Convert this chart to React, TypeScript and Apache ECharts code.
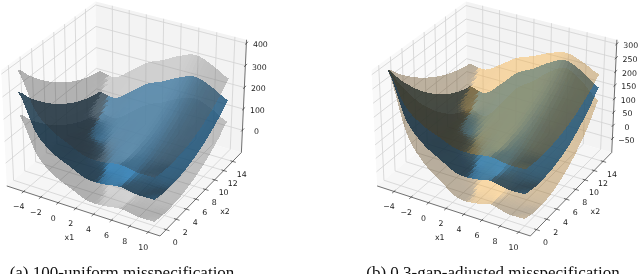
import React, { useEffect, useRef } from "react";
import * as echarts from "echarts";

const x1Grid = [-5, -3.125, -1.25, 0.625, 2.5, 4.375, 6.25, 8.125, 10];
const x2Grid = [0, 1.875, 3.75, 5.625, 7.5, 9.375, 11.25, 13.125, 15];
const x1Ticks = [-4, -2, 0, 2, 4, 6, 8, 10];
const x2Ticks = [0, 2, 4, 6, 8, 10, 12, 14];
const zTicksA = [0, 100, 200, 300, 400];
const zTicksB = [-50, 0, 50, 100, 150, 200, 250, 300];

const meanZ = [
  [308, 247, 193, 146, 107, 74, 48, 29, 18],
  [150, 108, 72, 44, 23, 9, 1, 1, 8],
  [80, 53, 33, 20, 14, 14, 22, 37, 59],
  [43, 28, 20, 18, 24, 37, 56, 83, 117],
  [10, 3, 3, 10, 24, 45, 73, 108, 150],
  [9, 7, 12, 24, 43, 69, 102, 142, 189],
  [21, 20, 27, 40, 61, 89, 123, 164, 213],
  [10, 8, 12, 24, 42, 68, 101, 140, 187],
  [11, 3, 3, 9, 22, 42, 70, 104, 146],
];
const upperA = [
  [408, 347, 293, 246, 207, 174, 148, 129, 118],
  [250, 208, 172, 144, 123, 109, 101, 101, 108],
  [180, 153, 133, 120, 114, 114, 122, 137, 159],
  [143, 128, 120, 118, 124, 137, 156, 183, 217],
  [110, 103, 103, 110, 124, 145, 173, 208, 250],
  [109, 107, 112, 124, 143, 169, 202, 242, 289],
  [121, 120, 127, 140, 161, 189, 223, 264, 313],
  [110, 108, 112, 124, 142, 168, 201, 240, 287],
  [111, 103, 103, 109, 122, 142, 170, 204, 246],
];
const lowerA = [
  [208, 147, 93, 46, 7, -26, -52, -71, -82],
  [50, 8, -28, -56, -77, -91, -99, -99, -92],
  [-20, -47, -67, -80, -86, -86, -78, -63, -41],
  [-57, -72, -80, -82, -76, -63, -44, -17, 17],
  [-90, -97, -97, -90, -76, -55, -27, 8, 50],
  [-91, -93, -88, -76, -57, -31, 2, 42, 89],
  [-79, -80, -73, -60, -39, -11, 23, 64, 113],
  [-90, -92, -88, -76, -58, -32, 1, 40, 87],
  [-89, -97, -97, -91, -78, -58, -30, 4, 46],
];
const upperB = [
  [308, 265, 227, 194, 167, 144, 126, 113, 105],
  [197, 168, 143, 123, 108, 98, 93, 93, 98],
  [148, 129, 115, 106, 102, 102, 108, 118, 134],
  [122, 112, 106, 105, 109, 118, 131, 150, 174],
  [99, 94, 94, 99, 109, 124, 143, 168, 197],
  [98, 97, 100, 109, 122, 140, 163, 191, 224],
  [107, 106, 111, 120, 135, 154, 178, 207, 241],
  [99, 98, 100, 109, 121, 140, 163, 190, 223],
  [100, 94, 94, 98, 107, 121, 141, 165, 194],
];
const lowerB = [
  [308, 229, 159, 98, 47, 4, -30, -54, -69],
  [103, 48, 2, -35, -62, -80, -91, -91, -82],
  [12, -23, -49, -66, -74, -74, -63, -44, -15],
  [-36, -56, -66, -69, -61, -44, -19, 16, 60],
  [-79, -88, -88, -79, -61, -34, 3, 48, 103],
  [-80, -83, -76, -61, -36, -2, 41, 93, 154],
  [-65, -66, -57, -40, -13, 24, 68, 121, 185],
  [-79, -82, -76, -61, -37, -4, 39, 90, 151],
  [-78, -88, -88, -80, -63, -37, -1, 43, 98],
];

const captionA = "(a) 100-uniform misspecification";
const captionB = "(b) 0.3-gap-adjusted misspecification";

const X1_RANGE = [-6, 11.27];
const X2_RANGE = [-1.2, 16];
const BOX = [1.19, 1.19, 0.893];
const U = [0.866, 0.5, 0];
const V = [-0.25, 0.433, 0.866];
const W = [0.433, -0.75, 0.5];
const DIST = 10;
const SCALE = 1475;
const LIGHT = [-0.667, -0.667, 0.333];
const SUB = 5;
const NORMAL_SPAN = 3;
const TICK_FONT = '7.8px "DejaVu Sans"';

type P = { x: number; y: number; d: number };

function makeProjector(cx: number, cy: number, zr: number[]) {
  return (a: number, b: number, c: number): P => {
    const p = [
      ((a - X1_RANGE[0]) / (X1_RANGE[1] - X1_RANGE[0]) - 0.5) * BOX[0],
      ((b - X2_RANGE[0]) / (X2_RANGE[1] - X2_RANGE[0]) - 0.5) * BOX[1],
      ((c - zr[0]) / (zr[1] - zr[0]) - 0.5) * BOX[2],
    ];
    const dot = (q: number[]) => p[0] * q[0] + p[1] * q[1] + p[2] * q[2];
    const d = DIST - dot(W);
    return { x: cx + (SCALE * dot(U)) / d, y: cy - (SCALE * dot(V)) / d, d };
  };
}

function cr(p0: number, p1: number, p2: number, p3: number, t: number) {
  return 0.5 * (2 * p1 + (p2 - p0) * t + (2 * p0 - 5 * p1 + 4 * p2 - p3) * t * t + (3 * p1 - p0 - 3 * p2 + p3) * t * t * t);
}

function refine(rows: number[][]) {
  const n = rows.length;
  const m = rows[0].length;
  const at = (i: number, j: number) => rows[Math.max(0, Math.min(n - 1, i))][Math.max(0, Math.min(m - 1, j))];
  const out: number[][] = [];
  for (let I = 0; I <= (n - 1) * SUB; I++) {
    const i = Math.min(n - 2, Math.floor(I / SUB));
    const ti = I / SUB - i;
    const row: number[] = [];
    for (let J = 0; J <= (m - 1) * SUB; J++) {
      const j = Math.min(m - 2, Math.floor(J / SUB));
      const tj = J / SUB - j;
      const col = [-1, 0, 1, 2].map((k) => cr(at(i + k, j - 1), at(i + k, j), at(i + k, j + 1), at(i + k, j + 2), tj));
      row.push(cr(col[0], col[1], col[2], col[3], ti));
    }
    out.push(row);
  }
  return out;
}

function surfaceSeries(rows: number[][], proj: ReturnType<typeof makeProjector>, rgb: number[], alpha: number) {
  const z = refine(rows);
  const n = z.length - 1;
  const dx = (x1Grid[x1Grid.length - 1] - x1Grid[0]) / n;
  const dy = (x2Grid[x2Grid.length - 1] - x2Grid[0]) / n;
  const cells: { pts: number[][]; fill: string; d: number }[] = [];
  for (let i = 0; i < n; i++) {
    for (let j = 0; j < n; j++) {
      const a = x1Grid[0] + i * dx;
      const b = x2Grid[0] + j * dy;
      const q = [proj(a, b, z[i][j]), proj(a + dx, b, z[i + 1][j]), proj(a + dx, b + dy, z[i + 1][j + 1]), proj(a, b + dy, z[i][j + 1])];
      const i0 = Math.max(0, i - NORMAL_SPAN);
      const i1 = Math.min(n, i + 1 + NORMAL_SPAN);
      const j0 = Math.max(0, j - NORMAL_SPAN);
      const j1 = Math.min(n, j + 1 + NORMAL_SPAN);
      const zx = (z[i1][j] + z[i1][j + 1] - z[i0][j] - z[i0][j + 1]) / 2 / ((i1 - i0) * dx);
      const zy = (z[i][j1] + z[i + 1][j1] - z[i][j0] - z[i + 1][j0]) / 2 / ((j1 - j0) * dy);
      const len = Math.sqrt(zx * zx + zy * zy + 1);
      const shade = (-zx * LIGHT[0] - zy * LIGHT[1] + LIGHT[2]) / len;
      const mult = 0.3 + (0.7 * (shade + 1)) / 2;
      const c = rgb.map((v) => Math.round(v * mult));
      cells.push({
        pts: q.map((p) => [p.x, p.y]),
        fill: `rgba(${c[0]},${c[1]},${c[2]},${alpha})`,
        d: (q[0].d + q[1].d + q[2].d + q[3].d) / 4,
      });
    }
  }
  cells.sort((p, q) => q.d - p.d);
  return {
    type: "custom",
    coordinateSystem: "none",
    silent: true,
    progressive: 0,
    animation: false,
    data: cells.map((_, i) => [i]),
    renderItem: (params: any) => {
      const cell = cells[params.dataIndex];
      return { type: "polygon", silent: true, shape: { points: cell.pts }, style: { fill: cell.fill } };
    },
  };
}

function frameSeries(proj: ReturnType<typeof makeProjector>, zr: number[], zTicks: number[]) {
  const [xa, xb] = X1_RANGE;
  const [ya, yb] = X2_RANGE;
  const [za, zb] = zr;
  const poly = (pts: P[], fill: string) => ({ type: "polygon", silent: true, shape: { points: pts.map((p) => [p.x, p.y]) }, style: { fill } });
  const line = (a: P, b: P, stroke: string, w: number) => ({
    type: "line",
    silent: true,
    shape: { x1: a.x, y1: a.y, x2: b.x, y2: b.y },
    style: { stroke, lineWidth: w },
  });
  const text = (t: string, a: P, ox: number, oy: number) => ({
    type: "text",
    silent: true,
    style: { text: t, x: a.x + ox, y: a.y + oy, fill: "#222", font: TICK_FONT, align: "center", verticalAlign: "middle" },
  });
  const fmt = (v: number) => String(v).replace("-", "\u2212");
  const G = "#d2d2d2";
  const A = "#333333";
  const els: any[] = [
    poly([proj(xa, ya, za), proj(xa, yb, za), proj(xa, yb, zb), proj(xa, ya, zb)], "#f9f9f9"),
    poly([proj(xa, yb, za), proj(xb, yb, za), proj(xb, yb, zb), proj(xa, yb, zb)], "#f3f3f3"),
    poly([proj(xa, ya, za), proj(xb, ya, za), proj(xb, yb, za), proj(xa, yb, za)], "#f6f6f6"),
  ];
  for (const t of x1Ticks) {
    els.push(line(proj(t, ya, za), proj(t, yb, za), G, 0.8), line(proj(t, yb, za), proj(t, yb, zb), G, 0.8));
  }
  for (const t of x2Ticks) {
    els.push(line(proj(xa, t, za), proj(xb, t, za), G, 0.8), line(proj(xa, t, za), proj(xa, t, zb), G, 0.8));
  }
  for (const t of zTicks) {
    els.push(line(proj(xa, ya, t), proj(xa, yb, t), G, 0.8), line(proj(xa, yb, t), proj(xb, yb, t), G, 0.8));
  }
  els.push(line(proj(xa, ya, za), proj(xb, ya, za), A, 0.7));
  els.push(line(proj(xb, ya, za), proj(xb, yb, za), A, 0.7));
  els.push(line(proj(xb, yb, za), proj(xb, yb, zb), A, 0.7));
  for (const t of x1Ticks) {
    els.push(line(proj(t, ya + 0.25, za), proj(t, ya - 0.35, za), A, 0.7));
    els.push(text(fmt(t), proj(t, ya, za), -5, 15.5));
  }
  for (const t of x2Ticks) {
    els.push(line(proj(xb - 0.25, t, za), proj(xb + 0.35, t, za), A, 0.7));
    els.push(text(fmt(t), proj(xb, t, za), 9, 13));
  }
  for (const t of zTicks) {
    els.push(line(proj(xb, yb - 0.3, t), proj(xb, yb + 0.4, t), A, 0.7));
    els.push(text(fmt(t), proj(xb, yb, t), 14, 1.5));
  }
  els.push(text("x1", proj((xa + xb) / 2, ya, za), -12, 27));
  els.push(text("x2", proj(xb, (ya + yb) / 2, za), 22.5, 19));
  return {
    type: "custom",
    coordinateSystem: "none",
    silent: true,
    animation: false,
    progressive: 0,
    data: els.map((_, i) => [i]),
    renderItem: (params: any) => els[params.dataIndex],
  };
}

const GREY = [150, 150, 150];
const BLUE = [31, 119, 180];
const ORANGE = [255, 170, 40];

function panelSeries(cx: number, zr: number[], zTicks: number[], up: number[][], lo: number[][], rgb: number[], bandAlpha: number) {
  const proj = makeProjector(cx, 113.1, zr);
  return [
    frameSeries(proj, zr, zTicks),
    surfaceSeries(lo, proj, rgb, bandAlpha),
    surfaceSeries(meanZ, proj, BLUE, 0.8),
    surfaceSeries(up, proj, rgb, bandAlpha),
  ];
}

export default function App() {
  const ref = useRef<HTMLDivElement>(null);
  useEffect(() => {
    const chart = echarts.init(ref.current!, undefined, { renderer: "svg" });
    chart.setOption({
      animation: false,
      backgroundColor: "#ffffff",
      series: [
        ...panelSeries(126.25, [-107, 416], zTicksA, upperA, lowerA, GREY, 0.36),
        ...panelSeries(496.6, [-103, 315], zTicksB, upperB, lowerB, ORANGE, 0.38),
      ],
      graphic: [
        { type: "text", silent: true, style: { text: captionA, x: 122, y: 272.6, fill: "#111", font: '17px "Liberation Serif"', align: "center", verticalAlign: "middle" } },
        { type: "text", silent: true, style: { text: captionB, x: 493, y: 272.6, fill: "#111", font: '17px "Liberation Serif"', align: "center", verticalAlign: "middle" } },
      ],
    });
    return () => chart.dispose();
  }, []);
  return (
    <>
      <style>{`body{margin:0} path[fill-opacity]{shape-rendering:crispEdges}`}</style>
      <div ref={ref} style={{ position: "fixed", left: 0, top: 0, width: 640, height: 274, overflow: "hidden", filter: "blur(0.45px)" }} />
    </>
  );
}
